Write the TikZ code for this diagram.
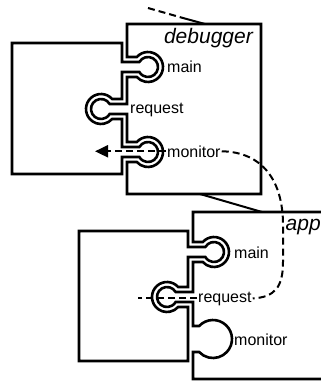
\documentclass[tikz,border=0pt]{standalone}
\usepackage{fontspec}
\setmainfont{Liberation Sans}
\usetikzlibrary{calc,arrows.meta}

\tikzset{
	piece/.style={line width=2.6pt, fill=white},
	link/.style={line width=2pt, dash pattern=on 7pt off 4pt},
	port/.style={font=\fontsize{16}{18}\selectfont, inner sep=1pt, anchor=base west},
	title/.style={font=\fontsize{21}{23}\selectfont\itshape, inner sep=0pt},
	% knob / socket on a vertical edge at x=#1, centre height #2, path runs downwards
	knobright/.style 2 args={insert path={-- (#1,#2-5) -- (#1+17.34,#2-5) arc[start angle=210, end angle=510, radius=10] -- (#1,#2+5)}},
	knobleft/.style 2 args={insert path={-- (#1,#2-5) -- (#1-17.34,#2-5) arc[start angle=330, end angle=30, radius=10] -- (#1,#2+5)}},
	socketright/.style 2 args={insert path={-- (#1,#2-10) -- (#1+9.82,#2-10) arc[start angle=221.81, end angle=498.19, radius=15] -- (#1,#2+10)}},
	socketleft/.style 2 args={insert path={-- (#1,#2-10) -- (#1-9.82,#2-10) arc[start angle=318.19, end angle=41.81, radius=15] -- (#1,#2+10)}},
}

\begin{document}
\begin{tikzpicture}[x=1pt,y=-1pt]
	\useasboundingbox (0,0) rectangle (321,381);
	\clip (0,0) rectangle (321,381);
	\def\de{122};
	\def\ae{188};
	
	% debugger
	\draw[piece] (261,24) -- (\de+5,24) [socketright={\de+5}{67}] [knobleft={\de+5}{109}] [socketright={\de+5}{152}] -- (\de+5,194) -- (261,194) -- cycle;
	\draw[piece] (12,43) -- (\de,43) [knobright={\de}{67}] [socketleft={\de}{109}] [knobright={\de}{152}] -- (\de,174) -- (12,174) -- cycle;
	
	% app
	\draw[piece] (340,212) -- (\ae+5,212) [socketright={\ae+5}{252}] [knobleft={\ae+5}{297}] -- (\ae+5,326) -- (199.14,326) arc[start angle=223.2, end angle=496.8, radius=19] -- (\ae+5,352) -- (\ae+5,379) -- (340,379) -- cycle;
	\draw[piece] (79,231) -- (\ae,231) [knobright={\ae}{252}] [socketleft={\ae}{297}] -- (\ae,361) -- (79,361) -- cycle;
	
	\node[title, anchor=base east] (dname) at (253,43) {debugger};
	\node[title, anchor=base west] (aname) at (285.5,230) {app};
	
	\node[port] (dmain) at (166,72) {main};
	\node[port] (dreq) at (129,113) {request};
	\node[port] (dmon) at (166,157) {monitor};
	\node[port] (amain) at (233,258) {main};
	\node[port] (areq) at (197,302) {request};
	\node[port] (amon) at (233,345) {monitor};
	
	\coordinate (far) at (148,8);
	\coordinate (mid) at (183,18);
	\coordinate (dtop) at (205,24);
	\coordinate (dbot) at (200,194);
	\coordinate (atop) at (262,212);
	\coordinate (dtip) at (95,152);
	\coordinate (aend) at (138,297);
	
	\draw[link] (far) -- (mid);
	\draw[line width=2pt] (mid) -- (dtop);
	\draw[line width=2pt] (dbot) -- (atop);
	
	\draw[link,-{Triangle[length=13pt,width=12pt]}] (dmon.west) -- (dmon.west -| dtip);
	\draw[link] (dmon.east) .. controls (262,152) and (283,180) .. (283,225) -- (283,262) .. controls (283,287) and (275,297) .. (areq.east);
	\draw[link] (areq.west) -- (areq.west -| aend);
\end{tikzpicture}
\end{document}
